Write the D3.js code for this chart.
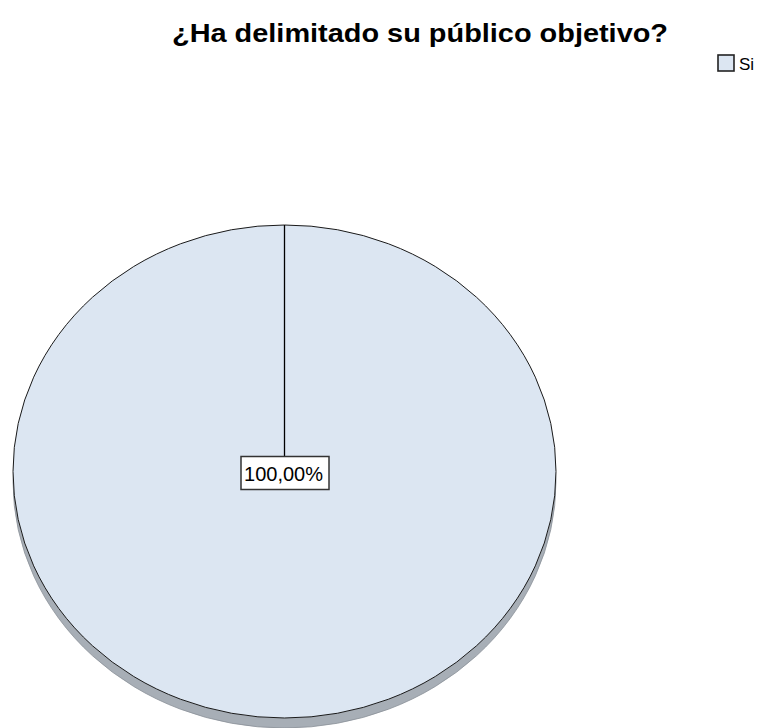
<!DOCTYPE html>
<html>
<head>
<meta charset="utf-8">
<script src="https://cdn.jsdelivr.net/npm/d3@7"></script>
<style>
  html, body { margin: 0; padding: 0; background: #ffffff; }
  svg { display: block; }
</style>
</head>
<body>
<svg id="chart" width="763" height="728"></svg>
<script>
// Data
const categories = ["Si"];
const values = [100];
const labels = ["100,00%"];
const title = "¿Ha delimitado su público objetivo?";

const W = 763, H = 728;
const svg = d3.select("#chart");
const font = "Arial, 'Liberation Sans', sans-serif";

// Pie geometry (tilted: ellipse with depth)
const cx = 284.5, cy = 471.5;
const rx = 271.5, ry = 246.5;
const depth = 10;
const yScale = ry / rx;

const color = d3.scaleOrdinal().domain(categories).range(["#dce6f2"]);
const sideColor = "#a7aeb6";

const pieData = d3.pie().sort(null).value(d => d)(values);
const arc = d3.arc().innerRadius(0).outerRadius(rx);

// Side (extruded rim)
const sideG = svg.append("g").attr("transform", `translate(${cx},${cy + depth}) scale(1,${yScale})`);
sideG.selectAll("path").data(pieData).join("path")
  .attr("d", arc)
  .attr("fill", sideColor)
  .attr("stroke", "#8a9098")
  .attr("stroke-width", 0.8)
  .attr("vector-effect", "non-scaling-stroke");

// Top face
const faceG = svg.append("g").attr("transform", `translate(${cx},${cy}) scale(1,${yScale})`);
faceG.selectAll("path").data(pieData).join("path")
  .attr("d", arc)
  .attr("fill", (d, i) => color(categories[i]))
  .attr("stroke", "#1a1a1a")
  .attr("stroke-width", 1)
  .attr("vector-effect", "non-scaling-stroke");

// Slice edge from centre to start angle
pieData.forEach(d => {
  const a = d.startAngle;
  svg.append("line")
    .attr("x1", cx).attr("y1", cy)
    .attr("x2", cx + rx * Math.sin(a))
    .attr("y2", cy - ry * Math.cos(a))
    .attr("stroke", "#000").attr("stroke-width", 1.3);
});

// Value label box
pieData.forEach((d, i) => {
  const g = svg.append("g");
  g.append("rect")
    .attr("x", cx - 43.5).attr("y", cy - 15)
    .attr("width", 88).attr("height", 33)
    .attr("fill", "#ffffff")
    .attr("stroke", "#333")
    .attr("stroke-width", 1.5);
  g.append("text")
    .attr("x", cx - 40.5).attr("y", cy + 9.5)
    .attr("font-family", font)
    .attr("font-size", 20)
    .attr("fill", "#000")
    .attr("textLength", 79)
    .attr("lengthAdjust", "spacingAndGlyphs")
    .text(labels[i]);
});

// Title
svg.append("text")
  .attr("x", 172).attr("y", 42)
  .attr("font-family", font)
  .attr("font-weight", "bold")
  .attr("font-size", 26)
  .attr("fill", "#000")
  .attr("textLength", 496)
  .attr("lengthAdjust", "spacingAndGlyphs")
  .text(title);

// Legend
const legend = svg.append("g").attr("transform", "translate(718,55)");
categories.forEach((c, i) => {
  const row = legend.append("g").attr("transform", `translate(0,${i * 22})`);
  row.append("rect")
    .attr("x", 0).attr("y", 0).attr("width", 16).attr("height", 16)
    .attr("fill", color(c)).attr("stroke", "#222").attr("stroke-width", 1.6);
  row.append("text")
    .attr("x", 21).attr("y", 15)
    .attr("font-family", font).attr("font-size", 17).attr("fill", "#000")
    .text(c);
});
</script>
</body>
</html>
